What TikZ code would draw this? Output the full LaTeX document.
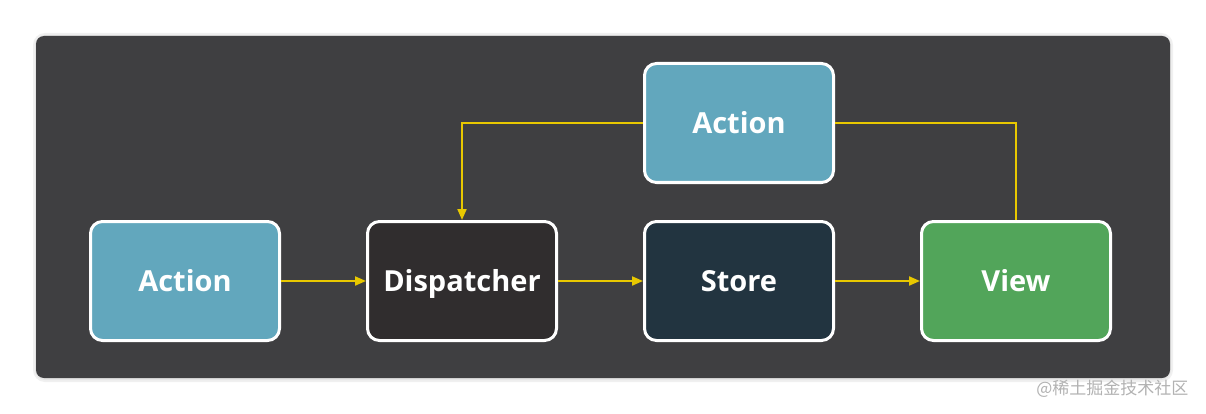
\documentclass[tikz,border=0pt]{standalone}
\usepackage{fontspec}
\setmainfont{Open Sans}
\newfontfamily\cjk{Noto Sans CJK SC}
\usetikzlibrary{positioning,arrows.meta}
\definecolor{panelgray}{HTML}{3F3F41}
\definecolor{actionblue}{HTML}{62A7BD}
\definecolor{dispdark}{HTML}{302D2E}
\definecolor{storedark}{HTML}{223440}
\definecolor{viewgreen}{HTML}{52A55A}
\definecolor{flowyellow}{HTML}{E8C800}
\tikzset{block/.style={draw=white,line width=3,rounded corners=12,minimum width=189,minimum height=119,
                       text=white,text height=21,text depth=0,
                       font=\bfseries\fontsize{29}{32}\selectfont},
         line/.style={draw=flowyellow,line width=2,-{Triangle[length=11,width=9]}}
}
\begin{document}
\begin{tikzpicture}[x=1pt,y=1pt,yscale=-1,xscale=1]
\useasboundingbox (0,0) rectangle (1206,414);
\fill[white] (0,0) rectangle (1206,414);

%Panel
\fill[black!6, rounded corners=12] (33,33) rectangle (1173,382);
\fill[black!10, rounded corners=10] (35,35) rectangle (1171,380);
\fill[panelgray, rounded corners=8] (36,36) rectangle (1170,378);

%Blocks
\node[block,fill=actionblue] (act) at (185,281) {Action};
\node[block,fill=dispdark] (disp) at (462,281) {Dispatcher};
\node[block,fill=storedark] (store) at (739,281) {Store};
\node[block,fill=viewgreen] (view) at (1016,281) {View};
\node[block,fill=actionblue] (topact) at (739,123) {Action};

%Connectors
\draw[line] (act) -- (disp);
\draw[line] (disp) -- (store);
\draw[line] (store) -- (view);
\draw[draw=flowyellow,line width=2] (view.north) |- (topact.east);
\draw[line] (topact.west) -| (disp.north);

% Watermark
\node[anchor=east,text=black!30,font=\cjk\fontsize{17}{19}\selectfont] (mark) at (1192,389) {@稀土掘金技术社区};

\end{tikzpicture}
\end{document}
